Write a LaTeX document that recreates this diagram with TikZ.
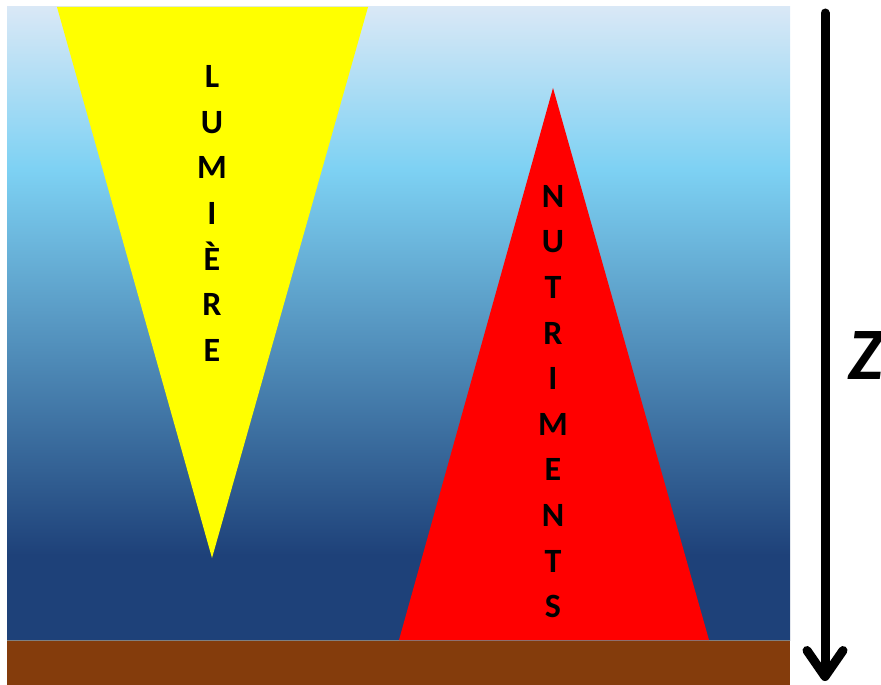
\documentclass[tikz,border=0pt]{standalone}
\usepackage{fontspec}
\setmainfont{Carlito}
\usetikzlibrary{positioning,arrows.meta}
\definecolor{ciel}{RGB}{217,232,246}
\definecolor{azur}{RGB}{125,209,243}
\definecolor{marine}{RGB}{30,65,121}
\definecolor{sol}{RGB}{132,60,12}
\definecolor{lumiere}{RGB}{255,255,0}
\definecolor{nutri}{RGB}{255,0,0}
\pgfdeclareverticalshading{eau}{100bp}{color(0bp)=(marine); color(31.7bp)=(marine);
  color(62.1bp)=(azur); color(75bp)=(ciel); color(100bp)=(ciel)}

\begin{document}
\begin{tikzpicture}[x=1pt, y=-1pt,
  lettres/.style={font=\bfseries\fontsize{34}{45.6}\selectfont, align=center,
    inner sep=0pt},
  axe/.style={line width=9pt, line cap=round,
    -{Straight Barb[length=26pt, width=36pt, round]}},
]
  \useasboundingbox (0,0) rectangle (881,685);
  % ---- Colonne d'eau et fond ----
  \shade[shading=eau] (7,7) rectangle (790,640);
  \fill[sol] (7,640) rectangle (790,685);
  \draw[gray, line width=0.8pt] (7,640) -- (790,640);
  % ---- Triangles ----
  \fill[lumiere] (57,7) -- (368,7) -- (212,558) -- cycle;
  \fill[nutri] (553,88) -- (709,640) -- (399,640) -- cycle;
  % ---- Textes ----
  \node[lettres] (lum) at (212,213.5) {L\\U\\M\\I\\È\\R\\E};
  \node[lettres] (nut) at (553,401.5) {N\\U\\T\\R\\I\\M\\E\\N\\T\\S};
  % ---- Axe de profondeur ----
  \coordinate (haut) at (825,13);
  \coordinate (bas) at (825,681);
  \draw[axe] (haut) -- (bas);
  \node[font=\bfseries\itshape\fontsize{74}{74}\selectfont, anchor=west,
    inner sep=0pt] (z) at (848,356) {Z};
\end{tikzpicture}
\end{document}
